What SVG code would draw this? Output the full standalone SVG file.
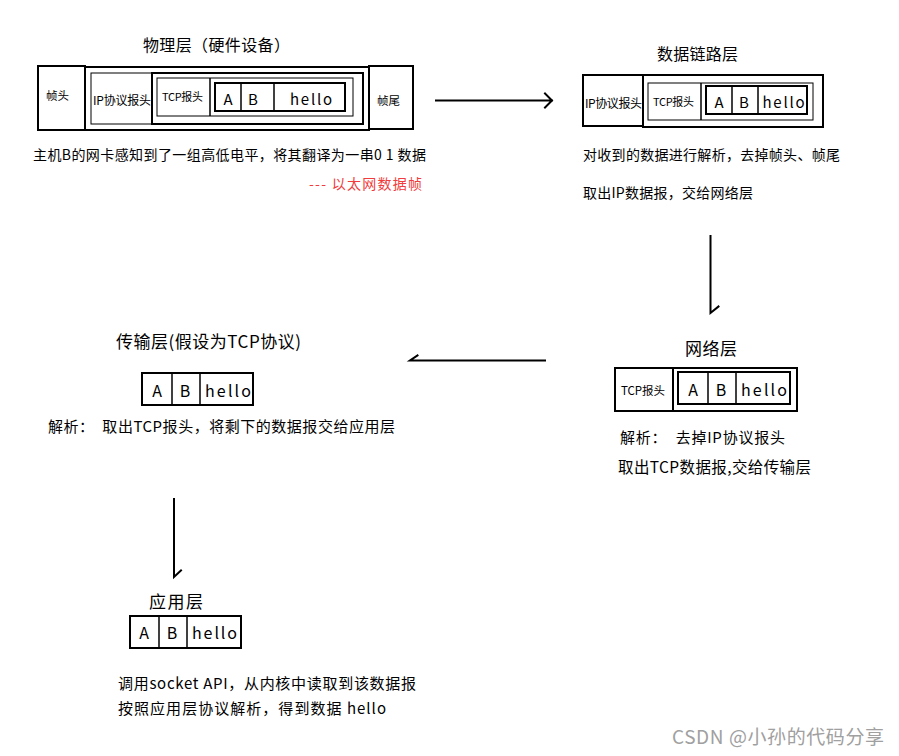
<svg xmlns="http://www.w3.org/2000/svg" width="899" height="756" viewBox="0 0 899 756">
<style>
text{font-family:"Noto Sans CJK SC","Noto Sans",sans-serif;fill:#000}
.b{fill:#fff;stroke:#000;stroke-width:2}
.t{fill:none;stroke:#000;stroke-width:1}
.d{stroke:#000;stroke-width:1.5}
.title{font-size:16px}
.big{font-size:17px}
.small{font-size:11.5px}
.cell{font-size:15px;text-anchor:middle}
.body{font-size:14px}
.body15{font-size:15px}
.conn{fill:none;stroke:#000;stroke-width:2;stroke-linecap:square}
</style>
<rect width="899" height="756" fill="#fff"/>

<g id="physical">
<text class="title" x="143" y="51" textLength="147" lengthAdjust="spacing">物理层（硬件设备）</text>
<rect class="b" x="38" y="66" width="47" height="64"/>
<rect class="b" x="85" y="67" width="284" height="63"/>
<rect class="b" x="369" y="66" width="44" height="63"/>
<rect class="t" x="91" y="73" width="61" height="51"/>
<rect class="b" x="152" y="73" width="211" height="51"/>
<rect class="t" x="157" y="78" width="196" height="38" stroke="#333"/>
<line class="d" x1="210" y1="78" x2="210" y2="116" stroke-width="2"/>
<rect class="b" x="215" y="83" width="130" height="28"/>
<line class="d" x1="241" y1="83" x2="241" y2="111"/>
<line class="d" x1="274" y1="83" x2="274" y2="111" stroke-width="2"/>
<text class="small" x="46" y="99.5" textLength="23" lengthAdjust="spacing">帧头</text>
<text class="small" x="93" y="104.5" textLength="58" lengthAdjust="spacing" style="font-size:12px">IP协议报头</text>
<text class="small" x="162" y="101" textLength="41" lengthAdjust="spacing" style="font-size:11px">TCP报头</text>
<text class="cell" x="228" y="104.5">A</text>
<text class="cell" x="253" y="104.5">B</text>
<text class="cell" x="311" y="104.5" textLength="42" lengthAdjust="spacing">hello</text>
<text class="small" x="377" y="104.5" textLength="23" lengthAdjust="spacing">帧尾</text>
<text class="body" x="33" y="159.5" textLength="393" lengthAdjust="spacing">主机B的网卡感知到了一组高低电平，将其翻译为一串0 1 数据</text>
<text class="body" x="309" y="189" textLength="113" lengthAdjust="spacing" style="fill:#f03c3c">--- 以太网数据帧</text>
</g>

<g id="datalink">
<text class="title" x="657" y="60" textLength="81" lengthAdjust="spacing">数据链路层</text>
<rect class="b" x="583" y="75" width="60" height="51"/>
<rect class="b" x="643" y="75" width="180" height="52"/>
<rect class="t" x="648" y="83" width="165" height="37" stroke-width="1.5"/>
<line class="d" x1="701" y1="83" x2="701" y2="120" stroke-width="2"/>
<rect class="b" x="706" y="86" width="101" height="28"/>
<line class="d" x1="732" y1="86" x2="732" y2="114"/>
<line class="d" x1="758" y1="86" x2="758" y2="114"/>
<text class="small" x="585" y="107.5" textLength="57" lengthAdjust="spacing" style="font-size:12px">IP协议报头</text>
<text class="small" x="653" y="106" textLength="41" lengthAdjust="spacing" style="font-size:11px">TCP报头</text>
<text class="cell" x="719" y="107.5">A</text>
<text class="cell" x="744" y="107.5">B</text>
<text class="cell" x="783.5" y="107.5" textLength="42" lengthAdjust="spacing">hello</text>
<text class="body" x="583" y="159.5" textLength="257" lengthAdjust="spacing">对收到的数据进行解析，去掉帧头、帧尾</text>
<text class="body" x="583" y="198" textLength="170" lengthAdjust="spacing">取出IP数据报，交给网络层</text>
</g>

<g id="network">
<text class="big" x="685" y="354.5" textLength="52" lengthAdjust="spacing">网络层</text>
<rect class="b" x="615" y="368" width="58" height="43"/>
<rect class="b" x="673" y="368" width="124" height="43"/>
<rect class="b" x="678" y="372" width="112" height="32"/>
<line class="d" x1="708" y1="372" x2="708" y2="404"/>
<line class="d" x1="736" y1="372" x2="736" y2="404" stroke-width="2"/>
<text class="small" x="621" y="395" textLength="44" lengthAdjust="spacing">TCP报头</text>
<text class="cell" x="693" y="396" style="font-size:16px">A</text>
<text class="cell" x="721" y="396" style="font-size:16px">B</text>
<text class="cell" x="764" y="396" textLength="46" lengthAdjust="spacing" style="font-size:16px">hello</text>
<text class="body15" x="620" y="442.5" textLength="165" lengthAdjust="spacing" xml:space="preserve">解析：  去掉IP协议报头</text>
<text class="body15" x="618" y="473" textLength="193" lengthAdjust="spacing" style="font-size:15.5px">取出TCP数据报,交给传输层</text>
</g>

<g id="transport">
<text class="big" x="116" y="347.5" textLength="185" lengthAdjust="spacing">传输层(假设为TCP协议)</text>
<rect class="b" x="142" y="373" width="111" height="32"/>
<line class="d" x1="172" y1="373" x2="172" y2="405" stroke-width="2"/>
<line class="d" x1="200" y1="373" x2="200" y2="405" stroke-width="2"/>
<text class="cell" x="157" y="397" style="font-size:16px">A</text>
<text class="cell" x="185" y="397" style="font-size:16px">B</text>
<text class="cell" x="228" y="397" textLength="46" lengthAdjust="spacing" style="font-size:16px">hello</text>
<text class="body15" x="48" y="431.5" textLength="347" lengthAdjust="spacing" xml:space="preserve">解析：  取出TCP报头，将剩下的数据报交给应用层</text>
</g>

<g id="application">
<text class="big" x="149" y="607.5" textLength="54" lengthAdjust="spacing">应用层</text>
<rect class="b" x="130" y="616" width="111" height="32"/>
<line class="d" x1="159" y1="616" x2="159" y2="648"/>
<line class="d" x1="187" y1="616" x2="187" y2="648"/>
<text class="cell" x="144" y="639" style="font-size:16px">A</text>
<text class="cell" x="172" y="639" style="font-size:16px">B</text>
<text class="cell" x="214.5" y="639" textLength="45" lengthAdjust="spacing" style="font-size:16px">hello</text>
<text class="body15" x="118" y="688.5" textLength="298" lengthAdjust="spacing">调用socket API，从内核中读取到该数据报</text>
<text class="body15" x="118" y="713.5" textLength="268" lengthAdjust="spacing">按照应用层协议解析，得到数据 hello</text>
</g>

<g id="connectors">
<path class="conn" d="M436 100.5H552M545 93.5L552 100.5L545 107.5"/>
<path class="conn" d="M710.5 236V313L718.5 306.5"/>
<path class="conn" d="M545 360.5H410L417.5 355.5"/>
<path class="conn" d="M174 499V577L181 570.5"/>
</g>

<text x="672" y="744" textLength="212" lengthAdjust="spacing" style="font-size:19px;fill:#a0a0a0">CSDN @小孙的代码分享</text>
</svg>
